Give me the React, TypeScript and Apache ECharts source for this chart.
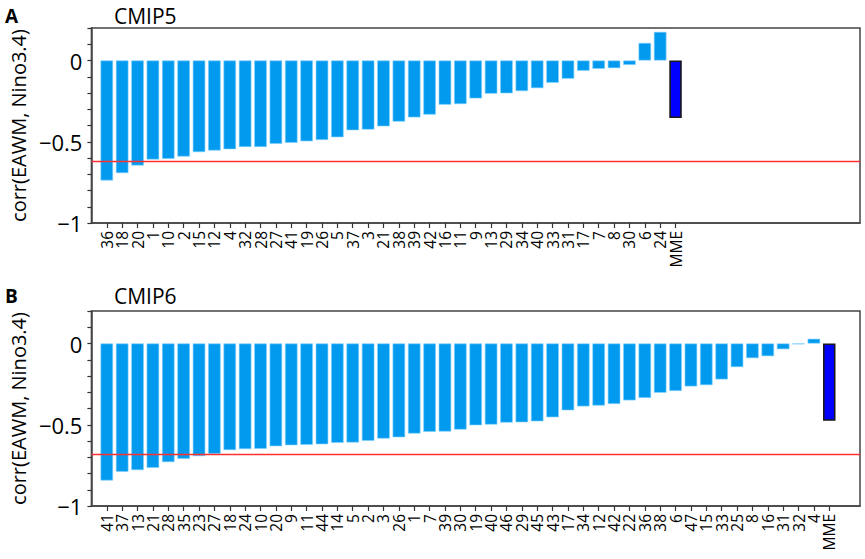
import React, { useEffect, useRef } from "react";
import * as echarts from "echarts";

const N_SLOTS = 51;

const cmip5Models = ["36","18","20","1","10","2","15","12","4","32","28","27","41","19","26","5","37","3","21","38","39","42","16","11","9","13","29","34","40","33","31","17","7","8","30","6","24","MME"];
const cmip5Values = [-0.738,-0.693,-0.646,-0.609,-0.605,-0.591,-0.564,-0.554,-0.546,-0.532,-0.532,-0.513,-0.507,-0.497,-0.489,-0.472,-0.429,-0.425,-0.405,-0.376,-0.350,-0.333,-0.272,-0.268,-0.233,-0.204,-0.202,-0.188,-0.170,-0.137,-0.112,-0.063,-0.051,-0.047,-0.027,0.108,0.176,-0.354];
const cmip5Threshold = -0.621;

const cmip6Models = ["41","37","13","21","28","35","23","27","18","24","10","20","9","11","44","14","5","2","3","26","1","7","39","30","19","40","46","29","45","43","17","34","12","42","22","36","38","6","47","15","33","25","8","16","31","32","4","MME"];
const cmip6Values = [-0.843,-0.789,-0.779,-0.765,-0.730,-0.710,-0.693,-0.679,-0.656,-0.650,-0.648,-0.632,-0.626,-0.624,-0.620,-0.611,-0.609,-0.599,-0.585,-0.577,-0.554,-0.544,-0.542,-0.530,-0.503,-0.499,-0.487,-0.485,-0.479,-0.454,-0.411,-0.387,-0.382,-0.372,-0.350,-0.335,-0.303,-0.292,-0.264,-0.256,-0.221,-0.145,-0.090,-0.078,-0.035,-0.005,0.029,-0.476];
const cmip6Threshold = -0.681;

const yTickLabels = [0, -0.5, -1];

const FONT = "Open Sans";
const BAR_COLOR = "#029AEE";
const MME_COLOR = "#0000FF";

function slots(models: string[]) {
  const cats: string[] = [];
  for (let i = 0; i < N_SLOTS; i++) {
    const m = i >= 1 && i <= models.length ? models[i - 1] : "_" + i;
    cats.push(m);
  }
  return cats;
}

function seriesData(models: string[], values: number[]) {
  const data: any[] = [];
  for (let i = 0; i < N_SLOTS; i++) {
    if (i >= 1 && i <= values.length) {
      const name = models[i - 1];
      if (name === "MME") {
        data.push({
          value: values[i - 1],
          itemStyle: { color: MME_COLOR, borderColor: "#1a1a1a", borderWidth: 1.6 },
        });
      } else {
        data.push(values[i - 1]);
      }
    } else {
      data.push(null);
    }
  }
  return data;
}

export default function App() {
  const ref = useRef<HTMLDivElement>(null);
  useEffect(() => {
    if (!ref.current) return;
    const chart = echarts.init(ref.current, null, { renderer: "svg" });
    const grids = [
      { left: 78, top: 28, width: 782, height: 195 },
      { left: 78, top: 311, width: 782, height: 195 },
    ];
    const makeX = (gi: number, models: string[]) => ({
      type: "category",
      gridIndex: gi,
      data: slots(models),
      boundaryGap: false,
      axisLine: { show: true, onZero: false, lineStyle: { color: "#444", width: 1.5 } },
      axisTick: {
        show: true,
        inside: false,
        length: 5,
        interval: (index: number, value: string) => !String(value).startsWith("_"),
        lineStyle: { color: "#333", width: 1.2 },
      },
      axisLabel: {
        interval: 0,
        rotate: 90,
        margin: 8,
        fontSize: 15.5,
        fontFamily: FONT,
        color: "#000",
        formatter: (v: string) => (String(v).startsWith("_") ? "" : v),
      },
      splitLine: { show: false },
    });
    const makeY = (gi: number) => ({
      type: "value",
      gridIndex: gi,
      min: -1,
      max: 0.2,
      interval: 0.1,
      name: "corr(EAWM, Nino3.4)",
      nameLocation: "middle",
      nameRotate: 90,
      nameGap: 53,
      nameTextStyle: { fontSize: 20, fontFamily: FONT, color: "#000" },
      axisLine: { show: true, onZero: false, lineStyle: { color: "#444", width: 1.5 } },
      axisTick: { show: true, inside: false, length: 4, lineStyle: { color: "#333", width: 1.2 } },
      axisLabel: {
        margin: 9,
        fontSize: 22,
        fontFamily: FONT,
        color: "#000",
        showMinLabel: true,
        showMaxLabel: true,
        formatter: (v: number) => {
          for (const t of yTickLabels) {
            if (Math.abs(v - t) < 1e-6) return String(t).replace("-", "\u2212");
          }
          return "";
        },
      },
      splitLine: { show: false },
    });
    const makeSeries = (gi: number, models: string[], values: number[], thr: number) => ({
      type: "bar",
      xAxisIndex: gi,
      yAxisIndex: gi,
      data: seriesData(models, values),
      barWidth: 12.5,
      itemStyle: { color: BAR_COLOR, borderColor: "#7fd1ff", borderWidth: 0.6 },
      markLine: {
        silent: true,
        symbol: "none",
        label: { show: false },
        lineStyle: { color: "#ff3030", width: 1.3, type: "solid", opacity: 1 },
        data: [{ yAxis: thr }],
      },
    });
    chart.setOption({
      animation: false,
      backgroundColor: "#fff",
      textStyle: { fontFamily: FONT },
      grid: grids.map((g) => ({ ...g, show: true, borderColor: "#444", borderWidth: 1.5, backgroundColor: "transparent" })),
      xAxis: [makeX(0, cmip5Models), makeX(1, cmip6Models)],
      yAxis: [makeY(0), makeY(1)],
      series: [
        makeSeries(0, cmip5Models, cmip5Values, cmip5Threshold),
        makeSeries(1, cmip6Models, cmip6Values, cmip6Threshold),
      ],
      graphic: [
        { type: "text", left: 5, top: 6, style: { text: "A", fontSize: 19, lineHeight: 19, fontWeight: "bold", fontFamily: FONT, fill: "#000" } },
        { type: "text", left: 114, top: 5, style: { text: "CMIP5", fontSize: 21, lineHeight: 21, fontFamily: FONT, fill: "#000" } },
        { type: "text", left: 5, top: 286, style: { text: "B", fontSize: 19, lineHeight: 19, fontWeight: "bold", fontFamily: FONT, fill: "#000" } },
        { type: "text", left: 114, top: 285, style: { text: "CMIP6", fontSize: 21, lineHeight: 21, fontFamily: FONT, fill: "#000" } },
      ],
    });
    return () => chart.dispose();
  }, []);
  return (
    <div
      ref={ref}
      style={{ position: "fixed", left: 0, top: 0, width: 865, height: 559, background: "#fff" }}
    />
  );
}
